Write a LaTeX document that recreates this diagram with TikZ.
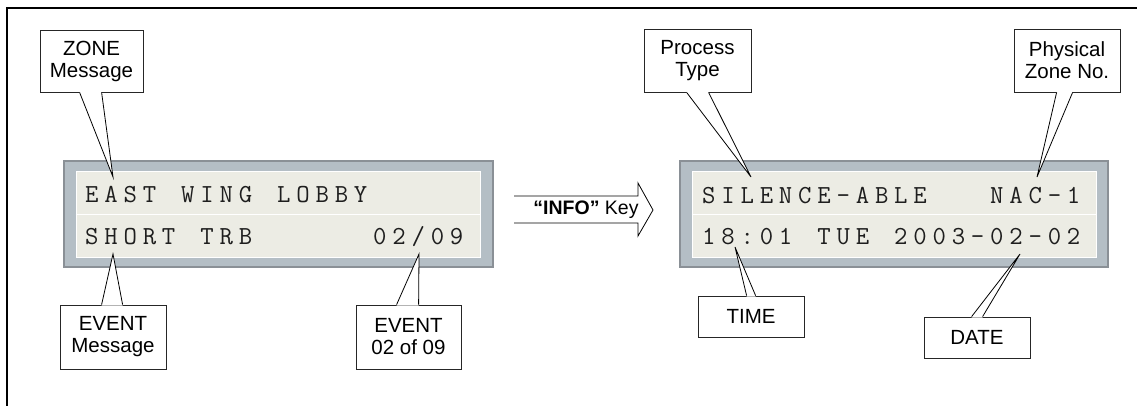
\documentclass[tikz,border=0pt]{standalone}
\usepackage{fontspec}
\setmainfont{Liberation Sans}
\usetikzlibrary{calc}
\definecolor{lcdout}{HTML}{B4BEC5}
\definecolor{lcdedge}{HTML}{8A9096}
\definecolor{lcdin}{HTML}{ECECE4}
\definecolor{lcdtxt}{HTML}{1E1E1E}
\newcommand\lcdtext[1]{\lcdloop#1\relax}
\def\lcdloop#1{\ifx#1\relax\else\makebox[19.2pt][l]{#1}\expandafter\lcdloop\fi}
\tikzset{
  callbox/.style={draw=black!85, line width=0.8pt, fill=white, inner sep=0pt, align=center,
     font=\fontsize{20.5}{22}\selectfont, minimum width=#1},
  callbox/.default=106pt,
  lcdrow/.style={anchor=base west, inner sep=0pt, text=lcdtxt, font=\fontsize{26}{26}\selectfont\ttfamily},
  lcdouter/.style={fill=lcdout, draw=lcdedge, line width=1.5pt},
  lcdinner/.style={fill=lcdin, draw=white, line width=0.6pt},
  frameline/.style={line width=1.8pt, black}
}
\begin{document}
\begin{tikzpicture}[x=1pt,y=-1pt]
\useasboundingbox (0,0) rectangle (1137,405);
% outer frame
\coordinate (ftr) at (1140,8);
\coordinate (ftl) at (7,8);
\coordinate (fbl) at (7,408);
\draw[frameline] (ftr) -- (ftl) -- (fbl);

% ---------- left LCD ----------
\node[lcdouter, minimum width=429pt, minimum height=106pt, inner sep=0pt] (lcdL) at (278.5,214) {};
\node[lcdinner, minimum width=404pt, minimum height=86pt, inner sep=0pt] (lcdLin) at (278,214) {};
\draw[white, line width=1pt] (lcdLin.west) -- (lcdLin.east);
\node[lcdrow] (l1) at (85,202) {\lcdtext{EAST~WING~LOBBY}};
\node[lcdrow] (l2) at (85,244) {\lcdtext{SHORT~TRB~~~~~~02/09}};

% ---------- right LCD ----------
\node[lcdouter, minimum width=428pt, minimum height=106pt, inner sep=0pt] (lcdR) at (894,214) {};
\node[lcdinner, minimum width=404pt, minimum height=86pt, inner sep=0pt] (lcdRin) at (894,214) {};
\draw[white, line width=1pt] (lcdRin.west) -- (lcdRin.east);
\node[lcdrow] (r1) at (702,203) {\lcdtext{SILENCE-ABLE~~~NAC-1}};
\node[lcdrow] (r2) at (702,244) {\lcdtext{18:01~TUE~2003-02-02}};

% ---------- INFO arrow ----------
\node[inner sep=0pt, font=\fontsize{19.5}{22}\selectfont] (info) at (586,210) {\textbf{“INFO”} Key};
\coordinate (a1) at (514,196);
\coordinate (a2) at (638,196);
\coordinate (a3) at (638,183);
\coordinate (atip) at (653,210);
\coordinate (a5) at (638,236);
\coordinate (a6) at (638,223);
\coordinate (a7) at (514,223);
\draw[line width=0.8pt] (a1) -- (a2) -- (a3) -- (atip) -- (a5) -- (a6) -- (a7);

% ---------- callouts ----------
% ZONE Message
\node[callbox=103pt, minimum height=62pt] (zone) at (91.5,61) {ZONE\\Message};
\coordinate (zt) at (113,177);
\fill[white] ($(zone.south west)+(40,-1)$) -- ($(zone.south west)+(40,0)$) -- (zt) -- ($(zone.south west)+(62,0)$) -- ($(zone.south west)+(62,-1)$) -- cycle;
\draw[line width=0.8pt] ($(zone.south west)+(40,0)$) -- (zt) -- ($(zone.south west)+(62,0)$);

% EVENT Message
\node[callbox, minimum height=64pt] (evm) at (113,337) {EVENT\\Message};
\coordinate (emt) at (113,254);
\fill[white] ($(evm.north west)+(42,1)$) -- ($(evm.north west)+(42,0)$) -- (emt) -- ($(evm.north west)+(63,0)$) -- ($(evm.north west)+(63,1)$) -- cycle;
\draw[line width=0.8pt] ($(evm.north west)+(42,0)$) -- (emt) -- ($(evm.north west)+(63,0)$);

% EVENT 02 of 09
\node[callbox=105pt, minimum height=64pt] (evn) at (408.5,337) {EVENT\\02 of 09};
\coordinate (ent) at (419,254);
\fill[white] ($(evn.north west)+(41,1)$) -- ($(evn.north west)+(41,0)$) -- (ent) -- ($(evn.north west)+(63,0)$) -- ($(evn.north west)+(63,1)$) -- cycle;
\draw[line width=0.8pt] ($(evn.north west)+(41,0)$) -- (ent) -- ($(evn.north west)+(63,0)$);

% Process Type
\node[callbox=107pt, minimum height=63pt] (proc) at (697.5,60.5) {Process\\Type};
\coordinate (pt) at (751,177);
\fill[white] ($(proc.south west)+(43,-1)$) -- ($(proc.south west)+(43,0)$) -- (pt) -- ($(proc.south west)+(65,0)$) -- ($(proc.south west)+(65,-1)$) -- cycle;
\draw[line width=0.8pt] ($(proc.south west)+(43,0)$) -- (pt) -- ($(proc.south west)+(65,0)$);

% Physical Zone No.
\node[callbox=106pt, minimum height=63pt] (phys) at (1067,60.5) {Physical\\Zone No.};
\coordinate (pzt) at (1037,177);
\fill[white] ($(phys.south west)+(43,-1)$) -- ($(phys.south west)+(43,0)$) -- (pzt) -- ($(phys.south west)+(59,0)$) -- ($(phys.south west)+(59,-1)$) -- cycle;
\draw[line width=0.8pt] ($(phys.south west)+(43,0)$) -- (pzt) -- ($(phys.south west)+(59,0)$);

% TIME
\node[callbox, minimum height=41pt] (time) at (751,316.5) {TIME};
\coordinate (tt) at (735,247);
\fill[white] ($(time.north west)+(49,1)$) -- ($(time.north west)+(49,0)$) -- (tt) -- ($(time.north west)+(58,0)$) -- ($(time.north west)+(58,1)$) -- cycle;
\draw[line width=0.8pt] ($(time.north west)+(49,0)$) -- (tt) -- ($(time.north west)+(58,0)$);

% DATE
\node[callbox, minimum height=41pt] (date) at (977,337.5) {DATE};
\coordinate (dt) at (1020,254);
\fill[white] ($(date.north west)+(48,1)$) -- ($(date.north west)+(48,0)$) -- (dt) -- ($(date.north west)+(59,0)$) -- ($(date.north west)+(59,1)$) -- cycle;
\draw[line width=0.8pt] ($(date.north west)+(48,0)$) -- (dt) -- ($(date.north west)+(59,0)$);
\end{tikzpicture}
\end{document}
